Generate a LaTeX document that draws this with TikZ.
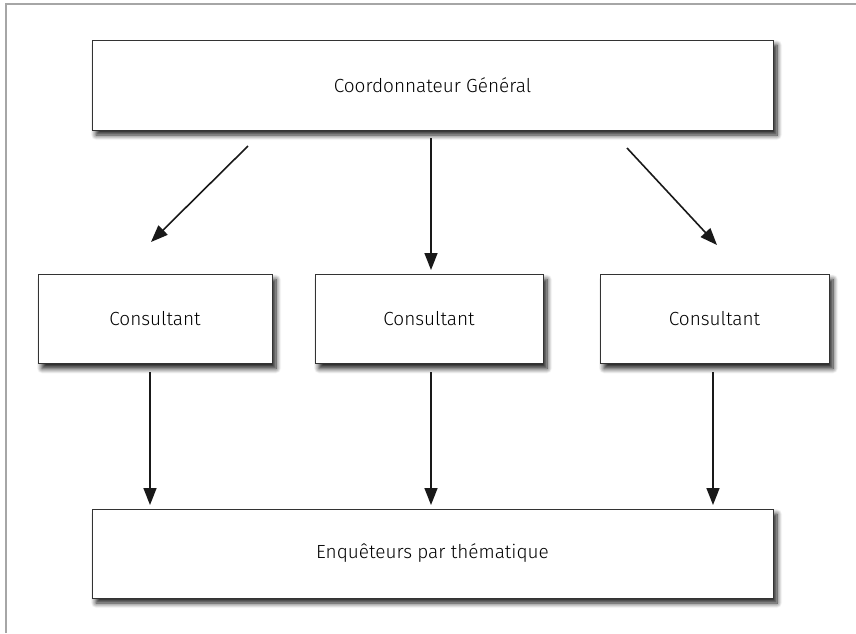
\documentclass[tikz,border=0pt]{standalone}
\usepackage{fontspec}
\setmainfont{Fira Sans Light}
\usetikzlibrary{arrows.meta,shadows.blur}
\begin{document}
\begin{tikzpicture}[x=1pt,y=-1pt,
  box/.style={draw=black!80,line width=0.9pt,fill=white,inner sep=0pt,
    blur shadow={shadow xshift=4pt,shadow yshift=-5pt,shadow blur steps=8,shadow blur radius=5pt,shadow opacity=90},
    font=\fontsize{19}{22}\selectfont,text=black},
  arr/.style={line width=1.6pt,draw=black!90,-{Triangle[length=17pt,width=13pt]}}]
\useasboundingbox (0,0) rectangle (856,633);
\draw[black!35,line width=1.2pt] (6,633) -- (6,4) -- (856,4);
\node[box,minimum width=681pt,minimum height=90pt] (top) at (432.5,85) {Coordonnateur Général};
\node[box,minimum width=234pt,minimum height=89pt] (c1) at (155,319) {Consultant};
\node[box,minimum width=228pt,minimum height=89pt] (c2) at (429,319) {Consultant};
\node[box,minimum width=229pt,minimum height=89pt] (c3) at (714.5,319) {Consultant};
\node[box,minimum width=681pt,minimum height=89pt] (bot) at (432.5,553.5) {Enquêteurs par thématique};
\coordinate (a1s) at (248,146); \coordinate (a1e) at (151,242);
\coordinate (a2s) at (431,138); \coordinate (a2e) at (431,270);
\coordinate (a3s) at (627,148); \coordinate (a3e) at (717,245);
\draw[arr] (a1s) -- (a1e);
\draw[arr] (a2s) -- (a2e);
\draw[arr] (a3s) -- (a3e);
\coordinate (b1s) at (150,372); \coordinate (b1e) at (150,505);
\coordinate (b2s) at (431,372); \coordinate (b2e) at (431,505);
\coordinate (b3s) at (713,372); \coordinate (b3e) at (713,505);
\draw[arr] (b1s) -- (b1e);
\draw[arr] (b2s) -- (b2e);
\draw[arr] (b3s) -- (b3e);
\end{tikzpicture}
\end{document}
